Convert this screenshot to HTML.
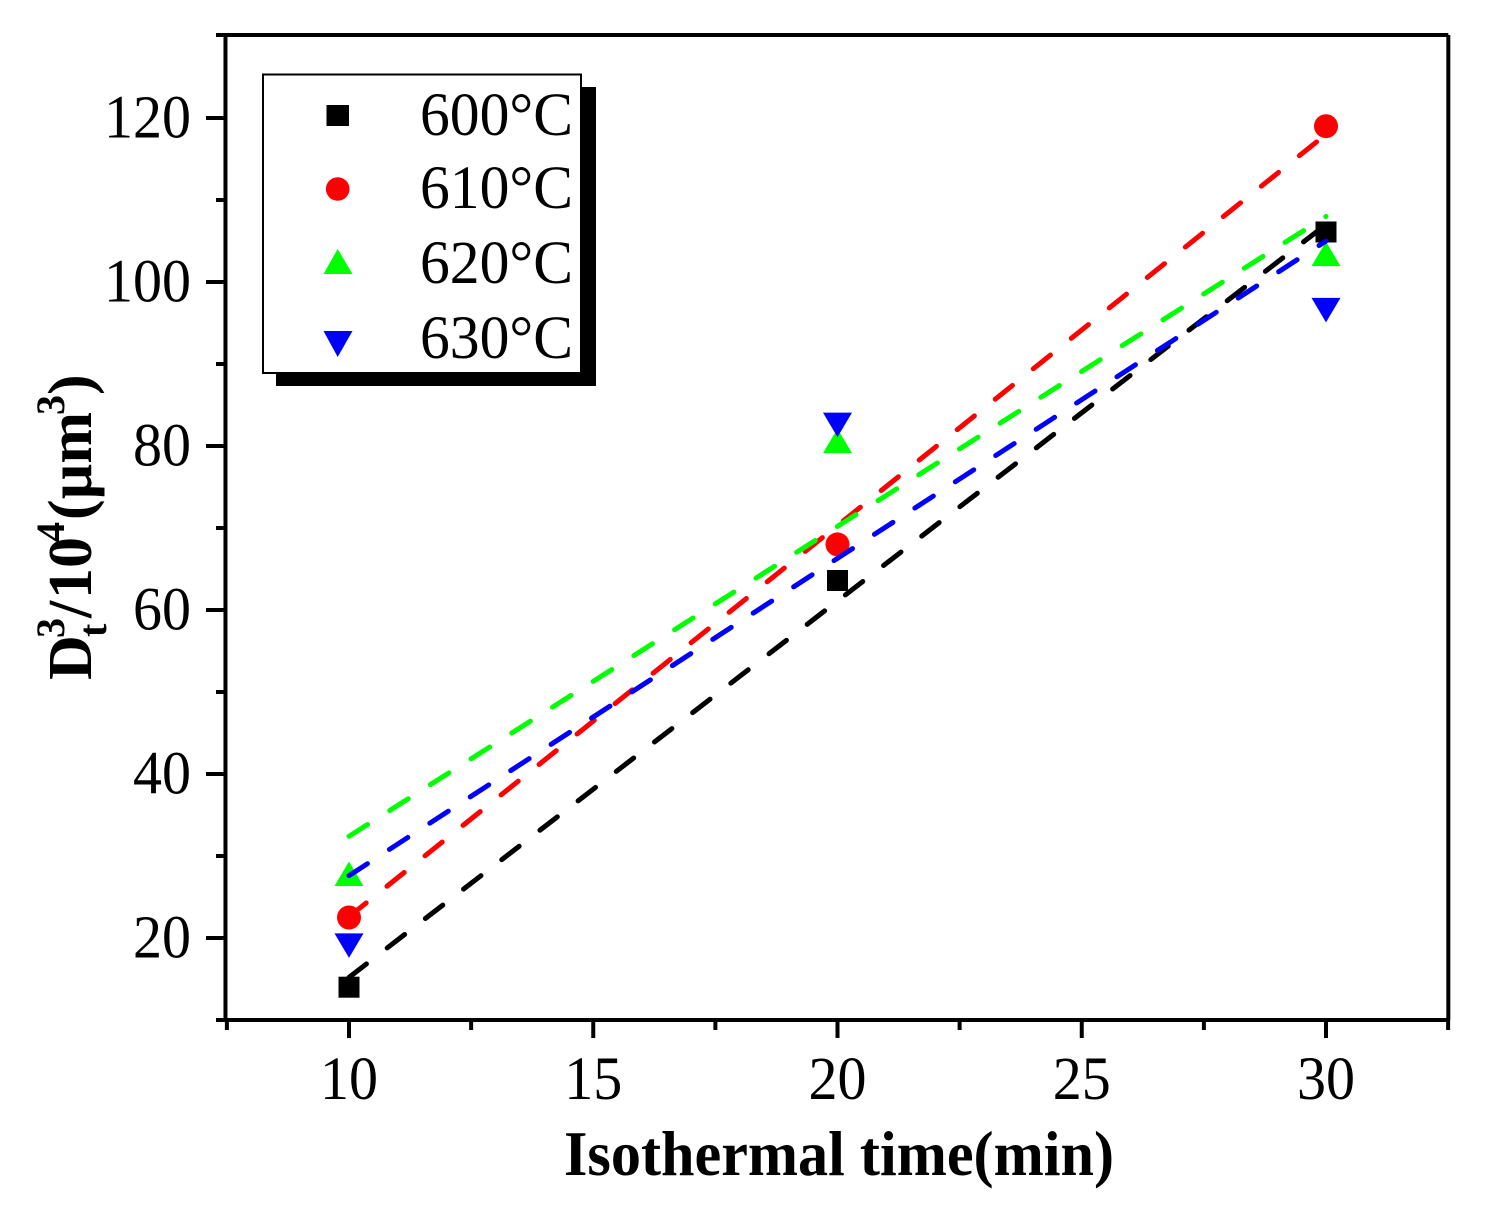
<!DOCTYPE html>
<html lang="en">
<head>
<meta charset="utf-8">
<title>Isothermal time chart</title>
<style>
html,body{margin:0;padding:0;background:#fff;width:1485px;height:1215px;overflow:hidden}
svg{display:block;font-family:"Liberation Serif",serif}
</style>
</head>
<body>
<svg id="chart" xmlns="http://www.w3.org/2000/svg" width="1485" height="1215" viewBox="0 0 1485 1215">
  <g id="axes"></g>
  <g id="marks"></g>
  <g id="fits"></g>

  <g>
    <rect x="276" y="87" width="320" height="299" fill="#000"/>
    <rect x="263" y="74.5" width="318" height="298.5" fill="#fff" stroke="#000" stroke-width="2"/>
    <rect x="326.500" y="105" width="22.500" height="21" fill="#000"/>
    <circle cx="337.700" cy="189" r="11.800" fill="#f00"/>
    <polygon points="337.700,249 352.500,274 323.500,274" fill="#0f0"/>
    <polygon points="323.500,331 352.500,331 337.700,357" fill="#00f"/>
    <text x="420" y="135" font-size="61" textLength="153" lengthAdjust="spacingAndGlyphs">600°C</text>
    <text x="420" y="208" font-size="61" textLength="153" lengthAdjust="spacingAndGlyphs">610°C</text>
    <text x="420" y="283" font-size="61" textLength="153" lengthAdjust="spacingAndGlyphs">620°C</text>
    <text x="420" y="358" font-size="61" textLength="153" lengthAdjust="spacingAndGlyphs">630°C</text>
  </g>

  <text x="564" y="1175" font-size="63" font-weight="bold" textLength="550" lengthAdjust="spacingAndGlyphs">Isothermal time(min)</text>

  <g transform="translate(91,680) rotate(-90)" font-weight="bold" font-size="62">
    <text x="0" y="0">D</text>
    <text x="42" y="-27" font-size="40">3</text>
    <text x="43" y="15" font-size="40">t</text>
    <text x="62" y="0">/</text>
    <text x="81" y="0">10</text>
    <text x="138" y="-27" font-size="40">4</text>
    <text x="160" y="0">(µm</text>
    <text x="265" y="-27" font-size="40">3</text>
    <text x="285" y="0">)</text>
  </g>
</svg>

<script>
// Axis tick values
var xMajorTicks = [10, 15, 20, 25, 30];
var xMinorTicks = [7.5, 12.5, 17.5, 22.5, 27.5, 32.5];
var yMajorTicks = [20, 40, 60, 80, 100, 120];
var yMinorTicks = [10, 30, 50, 70, 90, 110, 130];

// Measured data
var times = [10, 20, 30];
var series600 = [14, 63.6, 106.1];
var series610 = [22.5, 68, 119];
var series620 = [27.8, 80.6, 103.4];
var series630 = [19.1, 82.6, 96.6];

// Dashed fit lines: values at the first and last time
var fit600 = [15.2, 107];
var fit610 = [22.6, 118];
var fit620 = [32.4, 108];
var fit630 = [27.6, 105];

var NS = 'http://www.w3.org/2000/svg';
var axes = document.getElementById('axes');
var marks = document.getElementById('marks');
var fits = document.getElementById('fits');

function xScale(v) { return 349 + (v - 10) * 48.85; }
function yScale(v) { return 1020 - (v - 10) * 8.2; }

function make(tag, parent, props) {
  var el = document.createElementNS(NS, tag);
  for (var k in props) { el.setAttribute(k, props[k]); }
  parent.appendChild(el);
  return el;
}
function axisLine(parent, x1, y1, x2, y2) {
  return make('line', parent, {x1: x1, y1: y1, x2: x2, y2: y2, stroke: '#000', 'stroke-width': 4});
}

var frameX0 = xScale(7.5) - 1.4;
var frameX1 = xScale(32.5) + 0.2;
var frameY0 = yScale(130) - 1;

var frameLeft = axisLine(axes, frameX0, frameY0, frameX0, yScale(10));


var frameBottom = axisLine(axes, frameX0, yScale(10), frameX1, yScale(10));


var frameTop = axisLine(axes, 216, frameY0, frameX1, frameY0);


var frameRight = axisLine(axes, frameX1, frameY0, frameX1, yScale(10));



xMajorTicks.forEach(function (v) {
  var t = axisLine(axes, xScale(v), yScale(10), xScale(v), 1038);
  
  
  var l = make('text', axes, {x: xScale(v), y: 1099, 'font-size': 61, 'text-anchor': 'middle', textLength: 58, lengthAdjust: 'spacingAndGlyphs'});
  l.textContent = String(v);
  
  
});
xMinorTicks.forEach(function (v) {
  var t = axisLine(axes, xScale(v), yScale(10), xScale(v), 1030);
  
  
});
yMajorTicks.forEach(function (v) {
  var t = axisLine(axes, 206, yScale(v), frameX0, yScale(v));
  
  
  var l = make('text', axes, {x: 191, y: yScale(v) + 19.5, 'font-size': 61, 'text-anchor': 'end', textLength: String(v).length * 29, lengthAdjust: 'spacingAndGlyphs'});
  l.textContent = String(v);
  
  
});
yMinorTicks.forEach(function (v) {
  var t = axisLine(axes, 216, v === 130 ? frameY0 : yScale(v), frameX0, v === 130 ? frameY0 : yScale(v));
  
  
});

series600.forEach(function (v, i) {
  var cx = xScale(times[i]), cy = yScale(v);
  var m = make('rect', marks, {x: cx - 10.5, y: cy - 10.5, width: 21, height: 21, fill: '#000'});
  
  
});
series610.forEach(function (v, i) {
  var m = make('circle', marks, {cx: xScale(times[i]), cy: yScale(v), r: 12, fill: '#f00'});
  
  
});
series620.forEach(function (v, i) {
  var cx = xScale(times[i]), cy = yScale(v);
  var pts = cx + ',' + (cy - 12.5) + ' ' + (cx + 14.5) + ',' + (cy + 12) + ' ' + (cx - 14.5) + ',' + (cy + 12);
  var m = make('polygon', marks, {points: pts, fill: '#0f0'});
  
  
});
series630.forEach(function (v, i) {
  var cx = xScale(times[i]), cy = yScale(v);
  var pts = (cx - 14.5) + ',' + (cy - 12) + ' ' + (cx + 14.5) + ',' + (cy - 12) + ' ' + cx + ',' + (cy + 12.5);
  var m = make('polygon', marks, {points: pts, fill: '#00f'});
  
  
});

function fitLine(values, color, dash) {
  return make('line', fits, {
    x1: xScale(times[0]), y1: yScale(values[0]),
    x2: xScale(times[times.length - 1]), y2: yScale(values[1]),
    stroke: color, 'stroke-width': 5, 'stroke-linecap': 'round', 'stroke-dasharray': dash
  });
}
var line600 = fitLine(fit600, '#000', '22 26.2');


var line610 = fitLine(fit610, '#f00', '22 26.7');


var line620 = fitLine(fit620, '#0f0', '22 26.2');


var line630 = fitLine(fit630, '#00f', '22 26.2');


</script>
</body>
</html>
